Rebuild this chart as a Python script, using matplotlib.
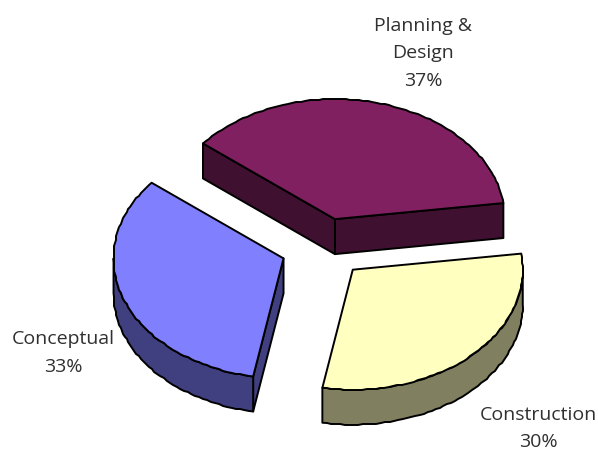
import numpy as np
import matplotlib
matplotlib.use('Agg')
import matplotlib.pyplot as plt
from matplotlib.patches import Polygon

# Slices, counter-clockwise from the start angle
names = ['Planning &\nDesign', 'Conceptual', 'Construction']
shares = [37, 33, 30]
top_colors = ['#802060', '#8080FF', '#FFFFC0']
side_colors = ['#401030', '#404080', '#808060']
label_pos = [(423, 53.5), (63, 353), (538, 428.5)]

start_angle = 7.7
explode = 0.25
cx, cy = 323.4, 248.0
rx, ry = 170.0, 120.0
depth = 35.0


def arc(x0, y0, t1, t2):
    # points along the top ellipse, angles in degrees, snapped to whole pixels
    t = np.radians(np.linspace(t1, t2, max(int(abs(t2 - t1) / 1.5), 1) + 1))
    pts = np.column_stack([x0 + rx * np.cos(t), y0 - ry * np.sin(t)])
    pts[1:-1] = np.round(pts[1:-1])
    return pts


def add_poly(ax, pts, color):
    ax.add_patch(Polygon(pts, closed=True, facecolor=color, edgecolor='black',
                         linewidth=1.4, joinstyle='round'))


fig = plt.figure(figsize=(5.98, 4.51), dpi=100)
ax = fig.add_axes([0, 0, 1, 1])
ax.set_xlim(0, 598)
ax.set_ylim(451, 0)
ax.axis('off')

plt.rcParams['font.family'] = ['Open Sans', 'DejaVu Sans']

t1 = start_angle
for share, top, side in zip(shares, top_colors, side_colors):
    t2 = t1 + share * 3.6
    mid = np.radians((t1 + t2) / 2)
    x0 = cx + explode * rx * np.cos(mid)
    y0 = cy - explode * ry * np.sin(mid)
    down = np.array([0, depth])
    centre = np.array([x0, y0])

    # cut faces, only those turned towards the viewer
    if np.cos(np.radians(t1)) > 0:
        p = arc(x0, y0, t1, t1)[0]
        add_poly(ax, [centre, p, p + down, centre + down], side)
    if np.cos(np.radians(t2)) < 0:
        p = arc(x0, y0, t2, t2)[0]
        add_poly(ax, [centre, p, p + down, centre + down], side)

    # outer rim along the front half of the ellipse
    r1, r2 = max(t1, 180), min(t2, 360)
    if r2 > r1:
        rim = arc(x0, y0, r1, r2)
        add_poly(ax, np.vstack([rim, (rim + down)[::-1]]), side)

    add_poly(ax, np.vstack([centre, arc(x0, y0, t1, t2)]), top)
    t1 = t2

for name, share, (lx, ly) in zip(names, shares, label_pos):
    ax.text(lx, ly, f'{name}\n{share}%', ha='center', va='center',
            fontsize=14, color='#303030', linespacing=1.68)

fig.savefig('out.png', dpi=100, facecolor='white')
